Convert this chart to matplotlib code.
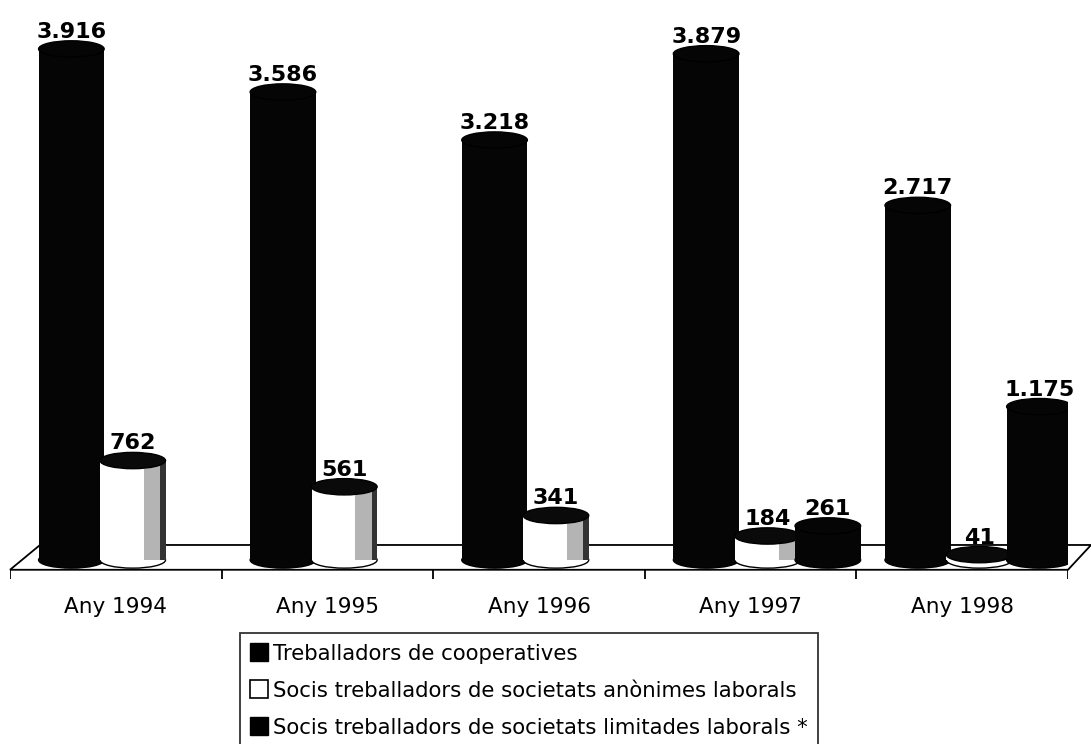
import matplotlib
matplotlib.use('Agg')
from matplotlib import pyplot as plt
from matplotlib.patches import Ellipse, Polygon
from matplotlib.lines import Line2D
import numpy as np

# dades
years = ['Any 1994', 'Any 1995', 'Any 1996', 'Any 1997', 'Any 1998']
cooperatives = [3916, 3586, 3218, 3879, 2717]
soc_anonimes = [762, 561, 341, 184, 41]
soc_limitades = [np.nan, np.nan, np.nan, 261, 1175]
labels = ['Treballadors de cooperatives',
          'Socis treballadors de societats anònimes laborals',
          'Socis treballadors de societats limitades laborals *']

def fmt(v):
    return '{:,}'.format(int(v)).replace(',', '.')

fig = plt.figure(figsize=(10.91, 7.44), dpi=100)
ax = fig.add_axes([10/1091, (744-590)/744, 1058/1091, 590/744])
ax.set_xlim(-0.5, 4.5)
ax.set_ylim(-230, 4291)
for s in ax.spines.values():
    s.set_visible(False)
ax.set_yticks([])
ax.set_xticks(range(len(years)))
ax.set_xticklabels(years, fontsize=15.5)
ax.tick_params(axis='x', length=0, pad=5)

# terra del grafic
front, back = -75, 115
floor = Polygon([(-0.5, front), (4.5, front), (4.609, back), (-0.358, back)],
                closed=True, facecolor='white', edgecolor='black', lw=1.3,
                zorder=1, clip_on=False)
ax.add_patch(floor)
ax.vlines(np.arange(-0.5, 5.0, 1.0), front - 69, front, color='black', lw=1.3, zorder=1)

width = 0.31
cap = 125
offsets = [-0.21, 0.08, 0.365]
x = np.arange(len(years))

def cylinder(xc, v, body, top, z, shade=False):
    ax.add_patch(Ellipse((xc, 0), width, cap, facecolor=body,
                         edgecolor='black', lw=1.0, zorder=z))
    ax.bar(xc, v, width, bottom=0, color=body, edgecolor='none', zorder=z)
    if shade:
        ax.bar(xc + width*0.30, v, width*0.26, bottom=0, color='#b4b4b4',
               edgecolor='none', zorder=z)
        ax.bar(xc + width*0.46, v, width*0.08, bottom=0, color='#333333',
               edgecolor='none', zorder=z)
    ax.add_patch(Ellipse((xc, v), width, cap, facecolor=top,
                         edgecolor='black', lw=1.0, zorder=z + 0.5))
    ax.annotate(fmt(v), (xc, v), xytext=(0, 8), textcoords='offset points',
                ha='center', va='baseline', fontsize=16, fontweight='bold',
                zorder=10)

for i in range(len(years)):
    cylinder(x[i] + offsets[0], cooperatives[i], '#050505', '#050505', 2)
    cylinder(x[i] + offsets[1], soc_anonimes[i], 'white', '#0a0a0a', 3, shade=True)
    if not np.isnan(soc_limitades[i]):
        cylinder(x[i] + offsets[2], soc_limitades[i], '#050505', '#050505', 4)

handles = [Line2D([], [], ls='none', marker='s', markersize=13,
                  markerfacecolor='black', markeredgecolor='black'),
           Line2D([], [], ls='none', marker='s', markersize=13,
                  markerfacecolor='white', markeredgecolor='black', markeredgewidth=1.2),
           Line2D([], [], ls='none', marker='s', markersize=13,
                  markerfacecolor='black', markeredgecolor='black')]
leg = fig.legend(handles, labels, loc='upper left',
                 bbox_to_anchor=(240/1091, 1 - 633/744), borderaxespad=0,
                 fontsize=15.3, frameon=True, fancybox=False, edgecolor='black',
                 handlelength=0.8, handletextpad=0.25, labelspacing=0.8,
                 borderpad=0.5)
leg.get_frame().set_linewidth(1.3)

plt.savefig('out.png', dpi=100)
